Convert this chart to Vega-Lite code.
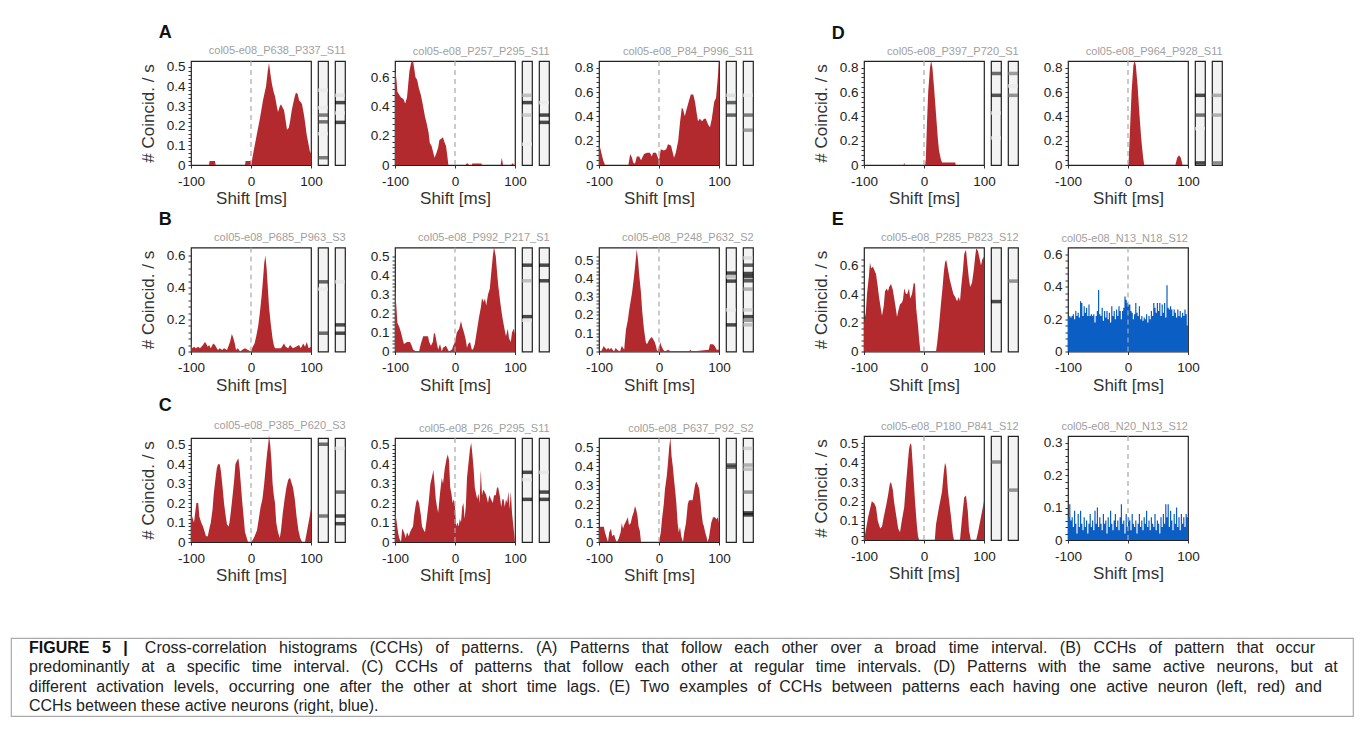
{
"$schema": "https://vega.github.io/schema/vega-lite/v6.json",
"padding": {"left": 10, "top": 24, "right": 0, "bottom": 0},
"background": "white",
"spacing": 52,
"vconcat": [
{"spacing": 57, "hconcat": [
 {"width": 70, "height": 10, "view": {"stroke": null, "fill": "white"}, "data": {"values": []}, "mark": "point", "encoding": {}},
 {"spacing": 2.5, "vconcat": [
  {"title": {"text": "A", "anchor": "start", "fontSize": 18, "fontWeight": "bold", "color": "#111", "dx": 20, "offset": 3}, "spacing": 23, "hconcat": [
   {"title": {"text": "col05-e08_P638_P337_S11"}, "bounds": "flush", "spacing": 7, "hconcat": [
    {"width": 120, "height": 104, "layer": [
     {"data": {"name": "A1"}, "mark": {"type": "area", "color": "#b2292e"}, "encoding": {
      "x": {"field": "t", "type": "quantitative", "scale": {"domain": [-100, 100], "nice": false}, "axis": {"values": [-100, -50, 0, 50, 100], "title": "Shift [ms]", "labelExpr": "datum.value < 0 ? '-' + (-datum.value) : '' + datum.value"}},
      "y": {"field": "v", "type": "quantitative", "scale": {"domain": [0, 0.53], "nice": false}, "axis": {"title": "# Coincid. / s", "values": [0,0.02,0.04,0.06,0.08,0.1,0.12,0.14,0.16,0.18,0.2,0.22,0.24,0.26,0.28,0.3,0.32,0.34,0.36,0.38,0.4,0.42,0.44,0.46,0.48,0.5], "labelExpr": "abs(datum.value*10-round(datum.value*10))<0.001 ? (datum.value==0 ? '0' : format(datum.value,'.1f')) : ''"}}}},
     {"data": {"values": [{}]}, "mark": {"type": "rule", "color": "#a8a8a8", "strokeDash": [5, 4], "strokeWidth": 1.2}, "encoding": {"x": {"datum": 0}}}
    ]},
    {"width": 10, "height": 104, "view": {"fill": "#f3f3f3", "stroke": "#222"}, "data": {"name": "strips"}, "transform": [{"filter": "datum.p=='A1' && datum.s==1"}], "mark": {"type": "tick", "thickness": 3.5, "size": 10}, "encoding": {"y": {"field": "pos", "type": "quantitative", "scale": {"domain": [0, 1]}, "axis": null}, "color": {"field": "v", "type": "quantitative", "scale": {"domain": [0, 1], "range": ["#ffffff", "#000000"]}, "legend": null}}},
    {"width": 10, "height": 104, "view": {"fill": "#f3f3f3", "stroke": "#222"}, "data": {"name": "strips"}, "transform": [{"filter": "datum.p=='A1' && datum.s==2"}], "mark": {"type": "tick", "thickness": 3.5, "size": 10}, "encoding": {"y": {"field": "pos", "type": "quantitative", "scale": {"domain": [0, 1]}, "axis": null}, "color": {"field": "v", "type": "quantitative", "scale": {"domain": [0, 1], "range": ["#ffffff", "#000000"]}, "legend": null}}}
   ]},
   {"title": {"text": "col05-e08_P257_P295_S11"}, "bounds": "flush", "spacing": 7, "hconcat": [
    {"width": 120, "height": 104, "layer": [
     {"data": {"name": "A2"}, "mark": {"type": "area", "color": "#b2292e"}, "encoding": {
      "x": {"field": "t", "type": "quantitative", "scale": {"domain": [-100, 100], "nice": false}, "axis": {"values": [-100, -50, 0, 50, 100], "title": "Shift [ms]", "labelExpr": "datum.value < 0 ? '-' + (-datum.value) : '' + datum.value"}},
      "y": {"field": "v", "type": "quantitative", "scale": {"domain": [0, 0.71], "nice": false}, "axis": {"title": null, "values": [0,0.04,0.08,0.12,0.16,0.2,0.24,0.28,0.32,0.36,0.4,0.44,0.48,0.52,0.56,0.6,0.64], "labelExpr": "abs(datum.value*5-round(datum.value*5))<0.001 ? (datum.value==0 ? '0' : format(datum.value,'.1f')) : ''"}}}},
     {"data": {"values": [{}]}, "mark": {"type": "rule", "color": "#a8a8a8", "strokeDash": [5, 4], "strokeWidth": 1.2}, "encoding": {"x": {"datum": 0}}}
    ]},
    {"width": 10, "height": 104, "view": {"fill": "#f3f3f3", "stroke": "#222"}, "data": {"name": "strips"}, "transform": [{"filter": "datum.p=='A2' && datum.s==1"}], "mark": {"type": "tick", "thickness": 3.5, "size": 10}, "encoding": {"y": {"field": "pos", "type": "quantitative", "scale": {"domain": [0, 1]}, "axis": null}, "color": {"field": "v", "type": "quantitative", "scale": {"domain": [0, 1], "range": ["#ffffff", "#000000"]}, "legend": null}}},
    {"width": 10, "height": 104, "view": {"fill": "#f3f3f3", "stroke": "#222"}, "data": {"name": "strips"}, "transform": [{"filter": "datum.p=='A2' && datum.s==2"}], "mark": {"type": "tick", "thickness": 3.5, "size": 10}, "encoding": {"y": {"field": "pos", "type": "quantitative", "scale": {"domain": [0, 1]}, "axis": null}, "color": {"field": "v", "type": "quantitative", "scale": {"domain": [0, 1], "range": ["#ffffff", "#000000"]}, "legend": null}}}
   ]},
   {"title": {"text": "col05-e08_P84_P996_S11"}, "bounds": "flush", "spacing": 7, "hconcat": [
    {"width": 120, "height": 104, "layer": [
     {"data": {"name": "A3"}, "mark": {"type": "area", "color": "#b2292e"}, "encoding": {
      "x": {"field": "t", "type": "quantitative", "scale": {"domain": [-100, 100], "nice": false}, "axis": {"values": [-100, -50, 0, 50, 100], "title": "Shift [ms]", "labelExpr": "datum.value < 0 ? '-' + (-datum.value) : '' + datum.value"}},
      "y": {"field": "v", "type": "quantitative", "scale": {"domain": [0, 0.855], "nice": false}, "axis": {"title": null, "values": [0,0.04,0.08,0.12,0.16,0.2,0.24,0.28,0.32,0.36,0.4,0.44,0.48,0.52,0.56,0.6,0.64,0.68,0.72,0.76,0.8], "labelExpr": "abs(datum.value*5-round(datum.value*5))<0.001 ? (datum.value==0 ? '0' : format(datum.value,'.1f')) : ''"}}}},
     {"data": {"values": [{}]}, "mark": {"type": "rule", "color": "#a8a8a8", "strokeDash": [5, 4], "strokeWidth": 1.2}, "encoding": {"x": {"datum": 0}}}
    ]},
    {"width": 10, "height": 104, "view": {"fill": "#f3f3f3", "stroke": "#222"}, "data": {"name": "strips"}, "transform": [{"filter": "datum.p=='A3' && datum.s==1"}], "mark": {"type": "tick", "thickness": 3.5, "size": 10}, "encoding": {"y": {"field": "pos", "type": "quantitative", "scale": {"domain": [0, 1]}, "axis": null}, "color": {"field": "v", "type": "quantitative", "scale": {"domain": [0, 1], "range": ["#ffffff", "#000000"]}, "legend": null}}},
    {"width": 10, "height": 104, "view": {"fill": "#f3f3f3", "stroke": "#222"}, "data": {"name": "strips"}, "transform": [{"filter": "datum.p=='A3' && datum.s==2"}], "mark": {"type": "tick", "thickness": 3.5, "size": 10}, "encoding": {"y": {"field": "pos", "type": "quantitative", "scale": {"domain": [0, 1]}, "axis": null}, "color": {"field": "v", "type": "quantitative", "scale": {"domain": [0, 1], "range": ["#ffffff", "#000000"]}, "legend": null}}}
   ]}
  ]},
  {"title": {"text": "B", "anchor": "start", "fontSize": 18, "fontWeight": "bold", "color": "#111", "dx": 20, "offset": 3}, "spacing": 23, "hconcat": [
   {"title": {"text": "col05-e08_P685_P963_S3"}, "bounds": "flush", "spacing": 7, "hconcat": [
    {"width": 120, "height": 104, "layer": [
     {"data": {"name": "B1"}, "mark": {"type": "area", "color": "#b2292e"}, "encoding": {
      "x": {"field": "t", "type": "quantitative", "scale": {"domain": [-100, 100], "nice": false}, "axis": {"values": [-100, -50, 0, 50, 100], "title": "Shift [ms]", "labelExpr": "datum.value < 0 ? '-' + (-datum.value) : '' + datum.value"}},
      "y": {"field": "v", "type": "quantitative", "scale": {"domain": [0, 0.65], "nice": false}, "axis": {"title": "# Coincid. / s", "values": [0,0.04,0.08,0.12,0.16,0.2,0.24,0.28,0.32,0.36,0.4,0.44,0.48,0.52,0.56,0.6], "labelExpr": "abs(datum.value*5-round(datum.value*5))<0.001 ? (datum.value==0 ? '0' : format(datum.value,'.1f')) : ''"}}}},
     {"data": {"values": [{}]}, "mark": {"type": "rule", "color": "#a8a8a8", "strokeDash": [5, 4], "strokeWidth": 1.2}, "encoding": {"x": {"datum": 0}}}
    ]},
    {"width": 10, "height": 104, "view": {"fill": "#f3f3f3", "stroke": "#222"}, "data": {"name": "strips"}, "transform": [{"filter": "datum.p=='B1' && datum.s==1"}], "mark": {"type": "tick", "thickness": 3.5, "size": 10}, "encoding": {"y": {"field": "pos", "type": "quantitative", "scale": {"domain": [0, 1]}, "axis": null}, "color": {"field": "v", "type": "quantitative", "scale": {"domain": [0, 1], "range": ["#ffffff", "#000000"]}, "legend": null}}},
    {"width": 10, "height": 104, "view": {"fill": "#f3f3f3", "stroke": "#222"}, "data": {"name": "strips"}, "transform": [{"filter": "datum.p=='B1' && datum.s==2"}], "mark": {"type": "tick", "thickness": 3.5, "size": 10}, "encoding": {"y": {"field": "pos", "type": "quantitative", "scale": {"domain": [0, 1]}, "axis": null}, "color": {"field": "v", "type": "quantitative", "scale": {"domain": [0, 1], "range": ["#ffffff", "#000000"]}, "legend": null}}}
   ]},
   {"title": {"text": "col05-e08_P992_P217_S1"}, "bounds": "flush", "spacing": 7, "hconcat": [
    {"width": 120, "height": 104, "layer": [
     {"data": {"name": "B2"}, "mark": {"type": "area", "color": "#b2292e"}, "encoding": {
      "x": {"field": "t", "type": "quantitative", "scale": {"domain": [-100, 100], "nice": false}, "axis": {"values": [-100, -50, 0, 50, 100], "title": "Shift [ms]", "labelExpr": "datum.value < 0 ? '-' + (-datum.value) : '' + datum.value"}},
      "y": {"field": "v", "type": "quantitative", "scale": {"domain": [0, 0.547], "nice": false}, "axis": {"title": null, "values": [0,0.02,0.04,0.06,0.08,0.1,0.12,0.14,0.16,0.18,0.2,0.22,0.24,0.26,0.28,0.3,0.32,0.34,0.36,0.38,0.4,0.42,0.44,0.46,0.48,0.5], "labelExpr": "abs(datum.value*10-round(datum.value*10))<0.001 ? (datum.value==0 ? '0' : format(datum.value,'.1f')) : ''"}}}},
     {"data": {"values": [{}]}, "mark": {"type": "rule", "color": "#a8a8a8", "strokeDash": [5, 4], "strokeWidth": 1.2}, "encoding": {"x": {"datum": 0}}}
    ]},
    {"width": 10, "height": 104, "view": {"fill": "#f3f3f3", "stroke": "#222"}, "data": {"name": "strips"}, "transform": [{"filter": "datum.p=='B2' && datum.s==1"}], "mark": {"type": "tick", "thickness": 3.5, "size": 10}, "encoding": {"y": {"field": "pos", "type": "quantitative", "scale": {"domain": [0, 1]}, "axis": null}, "color": {"field": "v", "type": "quantitative", "scale": {"domain": [0, 1], "range": ["#ffffff", "#000000"]}, "legend": null}}},
    {"width": 10, "height": 104, "view": {"fill": "#f3f3f3", "stroke": "#222"}, "data": {"name": "strips"}, "transform": [{"filter": "datum.p=='B2' && datum.s==2"}], "mark": {"type": "tick", "thickness": 3.5, "size": 10}, "encoding": {"y": {"field": "pos", "type": "quantitative", "scale": {"domain": [0, 1]}, "axis": null}, "color": {"field": "v", "type": "quantitative", "scale": {"domain": [0, 1], "range": ["#ffffff", "#000000"]}, "legend": null}}}
   ]},
   {"title": {"text": "col05-e08_P248_P632_S2"}, "bounds": "flush", "spacing": 7, "hconcat": [
    {"width": 120, "height": 104, "layer": [
     {"data": {"name": "B3"}, "mark": {"type": "area", "color": "#b2292e"}, "encoding": {
      "x": {"field": "t", "type": "quantitative", "scale": {"domain": [-100, 100], "nice": false}, "axis": {"values": [-100, -50, 0, 50, 100], "title": "Shift [ms]", "labelExpr": "datum.value < 0 ? '-' + (-datum.value) : '' + datum.value"}},
      "y": {"field": "v", "type": "quantitative", "scale": {"domain": [0, 0.569], "nice": false}, "axis": {"title": null, "values": [0,0.02,0.04,0.06,0.08,0.1,0.12,0.14,0.16,0.18,0.2,0.22,0.24,0.26,0.28,0.3,0.32,0.34,0.36,0.38,0.4,0.42,0.44,0.46,0.48,0.5,0.52], "labelExpr": "abs(datum.value*10-round(datum.value*10))<0.001 ? (datum.value==0 ? '0' : format(datum.value,'.1f')) : ''"}}}},
     {"data": {"values": [{}]}, "mark": {"type": "rule", "color": "#a8a8a8", "strokeDash": [5, 4], "strokeWidth": 1.2}, "encoding": {"x": {"datum": 0}}}
    ]},
    {"width": 10, "height": 104, "view": {"fill": "#f3f3f3", "stroke": "#222"}, "data": {"name": "strips"}, "transform": [{"filter": "datum.p=='B3' && datum.s==1"}], "mark": {"type": "tick", "thickness": 3.5, "size": 10}, "encoding": {"y": {"field": "pos", "type": "quantitative", "scale": {"domain": [0, 1]}, "axis": null}, "color": {"field": "v", "type": "quantitative", "scale": {"domain": [0, 1], "range": ["#ffffff", "#000000"]}, "legend": null}}},
    {"width": 10, "height": 104, "view": {"fill": "#f3f3f3", "stroke": "#222"}, "data": {"name": "strips"}, "transform": [{"filter": "datum.p=='B3' && datum.s==2"}], "mark": {"type": "tick", "thickness": 3.5, "size": 10}, "encoding": {"y": {"field": "pos", "type": "quantitative", "scale": {"domain": [0, 1]}, "axis": null}, "color": {"field": "v", "type": "quantitative", "scale": {"domain": [0, 1], "range": ["#ffffff", "#000000"]}, "legend": null}}}
   ]}
  ]},
  {"title": {"text": "C", "anchor": "start", "fontSize": 18, "fontWeight": "bold", "color": "#111", "dx": 20, "offset": 5}, "spacing": 23, "hconcat": [
   {"title": {"text": "col05-e08_P385_P620_S3"}, "bounds": "flush", "spacing": 7, "hconcat": [
    {"width": 120, "height": 104, "layer": [
     {"data": {"name": "C1"}, "mark": {"type": "area", "color": "#b2292e"}, "encoding": {
      "x": {"field": "t", "type": "quantitative", "scale": {"domain": [-100, 100], "nice": false}, "axis": {"values": [-100, -50, 0, 50, 100], "title": "Shift [ms]", "labelExpr": "datum.value < 0 ? '-' + (-datum.value) : '' + datum.value"}},
      "y": {"field": "v", "type": "quantitative", "scale": {"domain": [0, 0.535], "nice": false}, "axis": {"title": "# Coincid. / s", "values": [0,0.02,0.04,0.06,0.08,0.1,0.12,0.14,0.16,0.18,0.2,0.22,0.24,0.26,0.28,0.3,0.32,0.34,0.36,0.38,0.4,0.42,0.44,0.46,0.48,0.5], "labelExpr": "abs(datum.value*10-round(datum.value*10))<0.001 ? (datum.value==0 ? '0' : format(datum.value,'.1f')) : ''"}}}},
     {"data": {"values": [{}]}, "mark": {"type": "rule", "color": "#a8a8a8", "strokeDash": [5, 4], "strokeWidth": 1.2}, "encoding": {"x": {"datum": 0}}}
    ]},
    {"width": 10, "height": 104, "view": {"fill": "#f3f3f3", "stroke": "#222"}, "data": {"name": "strips"}, "transform": [{"filter": "datum.p=='C1' && datum.s==1"}], "mark": {"type": "tick", "thickness": 3.5, "size": 10}, "encoding": {"y": {"field": "pos", "type": "quantitative", "scale": {"domain": [0, 1]}, "axis": null}, "color": {"field": "v", "type": "quantitative", "scale": {"domain": [0, 1], "range": ["#ffffff", "#000000"]}, "legend": null}}},
    {"width": 10, "height": 104, "view": {"fill": "#f3f3f3", "stroke": "#222"}, "data": {"name": "strips"}, "transform": [{"filter": "datum.p=='C1' && datum.s==2"}], "mark": {"type": "tick", "thickness": 3.5, "size": 10}, "encoding": {"y": {"field": "pos", "type": "quantitative", "scale": {"domain": [0, 1]}, "axis": null}, "color": {"field": "v", "type": "quantitative", "scale": {"domain": [0, 1], "range": ["#ffffff", "#000000"]}, "legend": null}}}
   ]},
   {"title": {"text": "col05-e08_P26_P295_S11"}, "bounds": "flush", "spacing": 7, "hconcat": [
    {"width": 120, "height": 104, "layer": [
     {"data": {"name": "C2"}, "mark": {"type": "area", "color": "#b2292e"}, "encoding": {
      "x": {"field": "t", "type": "quantitative", "scale": {"domain": [-100, 100], "nice": false}, "axis": {"values": [-100, -50, 0, 50, 100], "title": "Shift [ms]", "labelExpr": "datum.value < 0 ? '-' + (-datum.value) : '' + datum.value"}},
      "y": {"field": "v", "type": "quantitative", "scale": {"domain": [0, 0.535], "nice": false}, "axis": {"title": null, "values": [0,0.02,0.04,0.06,0.08,0.1,0.12,0.14,0.16,0.18,0.2,0.22,0.24,0.26,0.28,0.3,0.32,0.34,0.36,0.38,0.4,0.42,0.44,0.46,0.48,0.5], "labelExpr": "abs(datum.value*10-round(datum.value*10))<0.001 ? (datum.value==0 ? '0' : format(datum.value,'.1f')) : ''"}}}},
     {"data": {"values": [{}]}, "mark": {"type": "rule", "color": "#a8a8a8", "strokeDash": [5, 4], "strokeWidth": 1.2}, "encoding": {"x": {"datum": 0}}}
    ]},
    {"width": 10, "height": 104, "view": {"fill": "#f3f3f3", "stroke": "#222"}, "data": {"name": "strips"}, "transform": [{"filter": "datum.p=='C2' && datum.s==1"}], "mark": {"type": "tick", "thickness": 3.5, "size": 10}, "encoding": {"y": {"field": "pos", "type": "quantitative", "scale": {"domain": [0, 1]}, "axis": null}, "color": {"field": "v", "type": "quantitative", "scale": {"domain": [0, 1], "range": ["#ffffff", "#000000"]}, "legend": null}}},
    {"width": 10, "height": 104, "view": {"fill": "#f3f3f3", "stroke": "#222"}, "data": {"name": "strips"}, "transform": [{"filter": "datum.p=='C2' && datum.s==2"}], "mark": {"type": "tick", "thickness": 3.5, "size": 10}, "encoding": {"y": {"field": "pos", "type": "quantitative", "scale": {"domain": [0, 1]}, "axis": null}, "color": {"field": "v", "type": "quantitative", "scale": {"domain": [0, 1], "range": ["#ffffff", "#000000"]}, "legend": null}}}
   ]},
   {"title": {"text": "col05-e08_P637_P92_S2"}, "bounds": "flush", "spacing": 7, "hconcat": [
    {"width": 120, "height": 104, "layer": [
     {"data": {"name": "C3"}, "mark": {"type": "area", "color": "#b2292e"}, "encoding": {
      "x": {"field": "t", "type": "quantitative", "scale": {"domain": [-100, 100], "nice": false}, "axis": {"values": [-100, -50, 0, 50, 100], "title": "Shift [ms]", "labelExpr": "datum.value < 0 ? '-' + (-datum.value) : '' + datum.value"}},
      "y": {"field": "v", "type": "quantitative", "scale": {"domain": [0, 0.549], "nice": false}, "axis": {"title": null, "values": [0,0.02,0.04,0.06,0.08,0.1,0.12,0.14,0.16,0.18,0.2,0.22,0.24,0.26,0.28,0.3,0.32,0.34,0.36,0.38,0.4,0.42,0.44,0.46,0.48,0.5], "labelExpr": "abs(datum.value*10-round(datum.value*10))<0.001 ? (datum.value==0 ? '0' : format(datum.value,'.1f')) : ''"}}}},
     {"data": {"values": [{}]}, "mark": {"type": "rule", "color": "#a8a8a8", "strokeDash": [5, 4], "strokeWidth": 1.2}, "encoding": {"x": {"datum": 0}}}
    ]},
    {"width": 10, "height": 104, "view": {"fill": "#f3f3f3", "stroke": "#222"}, "data": {"name": "strips"}, "transform": [{"filter": "datum.p=='C3' && datum.s==1"}], "mark": {"type": "tick", "thickness": 3.5, "size": 10}, "encoding": {"y": {"field": "pos", "type": "quantitative", "scale": {"domain": [0, 1]}, "axis": null}, "color": {"field": "v", "type": "quantitative", "scale": {"domain": [0, 1], "range": ["#ffffff", "#000000"]}, "legend": null}}},
    {"width": 10, "height": 104, "view": {"fill": "#f3f3f3", "stroke": "#222"}, "data": {"name": "strips"}, "transform": [{"filter": "datum.p=='C3' && datum.s==2"}], "mark": {"type": "tick", "thickness": 3.5, "size": 10}, "encoding": {"y": {"field": "pos", "type": "quantitative", "scale": {"domain": [0, 1]}, "axis": null}, "color": {"field": "v", "type": "quantitative", "scale": {"domain": [0, 1], "range": ["#ffffff", "#000000"]}, "legend": null}}}
   ]}
  ]}
 ]},
 {"spacing": 2.5, "vconcat": [
  {"title": {"text": "D", "anchor": "start", "fontSize": 18, "fontWeight": "bold", "color": "#111", "dx": 20, "offset": 3}, "spacing": 23, "hconcat": [
   {"title": {"text": "col05-e08_P397_P720_S1"}, "bounds": "flush", "spacing": 7, "hconcat": [
    {"width": 120, "height": 104, "layer": [
     {"data": {"name": "D1"}, "mark": {"type": "area", "color": "#b2292e"}, "encoding": {
      "x": {"field": "t", "type": "quantitative", "scale": {"domain": [-100, 100], "nice": false}, "axis": {"values": [-100, -50, 0, 50, 100], "title": "Shift [ms]", "labelExpr": "datum.value < 0 ? '-' + (-datum.value) : '' + datum.value"}},
      "y": {"field": "v", "type": "quantitative", "scale": {"domain": [0, 0.855], "nice": false}, "axis": {"title": "# Coincid. / s", "values": [0,0.04,0.08,0.12,0.16,0.2,0.24,0.28,0.32,0.36,0.4,0.44,0.48,0.52,0.56,0.6,0.64,0.68,0.72,0.76,0.8], "labelExpr": "abs(datum.value*5-round(datum.value*5))<0.001 ? (datum.value==0 ? '0' : format(datum.value,'.1f')) : ''"}}}},
     {"data": {"values": [{}]}, "mark": {"type": "rule", "color": "#a8a8a8", "strokeDash": [5, 4], "strokeWidth": 1.2}, "encoding": {"x": {"datum": 0}}}
    ]},
    {"width": 10, "height": 104, "view": {"fill": "#f3f3f3", "stroke": "#222"}, "data": {"name": "strips"}, "transform": [{"filter": "datum.p=='D1' && datum.s==1"}], "mark": {"type": "tick", "thickness": 3.5, "size": 10}, "encoding": {"y": {"field": "pos", "type": "quantitative", "scale": {"domain": [0, 1]}, "axis": null}, "color": {"field": "v", "type": "quantitative", "scale": {"domain": [0, 1], "range": ["#ffffff", "#000000"]}, "legend": null}}},
    {"width": 10, "height": 104, "view": {"fill": "#f3f3f3", "stroke": "#222"}, "data": {"name": "strips"}, "transform": [{"filter": "datum.p=='D1' && datum.s==2"}], "mark": {"type": "tick", "thickness": 3.5, "size": 10}, "encoding": {"y": {"field": "pos", "type": "quantitative", "scale": {"domain": [0, 1]}, "axis": null}, "color": {"field": "v", "type": "quantitative", "scale": {"domain": [0, 1], "range": ["#ffffff", "#000000"]}, "legend": null}}}
   ]},
   {"title": {"text": "col05-e08_P964_P928_S11"}, "bounds": "flush", "spacing": 7, "hconcat": [
    {"width": 120, "height": 104, "layer": [
     {"data": {"name": "D2"}, "mark": {"type": "area", "color": "#b2292e"}, "encoding": {
      "x": {"field": "t", "type": "quantitative", "scale": {"domain": [-100, 100], "nice": false}, "axis": {"values": [-100, -50, 0, 50, 100], "title": "Shift [ms]", "labelExpr": "datum.value < 0 ? '-' + (-datum.value) : '' + datum.value"}},
      "y": {"field": "v", "type": "quantitative", "scale": {"domain": [0, 0.855], "nice": false}, "axis": {"title": null, "values": [0,0.04,0.08,0.12,0.16,0.2,0.24,0.28,0.32,0.36,0.4,0.44,0.48,0.52,0.56,0.6,0.64,0.68,0.72,0.76,0.8], "labelExpr": "abs(datum.value*5-round(datum.value*5))<0.001 ? (datum.value==0 ? '0' : format(datum.value,'.1f')) : ''"}}}},
     {"data": {"values": [{}]}, "mark": {"type": "rule", "color": "#a8a8a8", "strokeDash": [5, 4], "strokeWidth": 1.2}, "encoding": {"x": {"datum": 0}}}
    ]},
    {"width": 10, "height": 104, "view": {"fill": "#f3f3f3", "stroke": "#222"}, "data": {"name": "strips"}, "transform": [{"filter": "datum.p=='D2' && datum.s==1"}], "mark": {"type": "tick", "thickness": 3.5, "size": 10}, "encoding": {"y": {"field": "pos", "type": "quantitative", "scale": {"domain": [0, 1]}, "axis": null}, "color": {"field": "v", "type": "quantitative", "scale": {"domain": [0, 1], "range": ["#ffffff", "#000000"]}, "legend": null}}},
    {"width": 10, "height": 104, "view": {"fill": "#f3f3f3", "stroke": "#222"}, "data": {"name": "strips"}, "transform": [{"filter": "datum.p=='D2' && datum.s==2"}], "mark": {"type": "tick", "thickness": 3.5, "size": 10}, "encoding": {"y": {"field": "pos", "type": "quantitative", "scale": {"domain": [0, 1]}, "axis": null}, "color": {"field": "v", "type": "quantitative", "scale": {"domain": [0, 1], "range": ["#ffffff", "#000000"]}, "legend": null}}}
   ]}
  ]},
  {"title": {"text": "E", "anchor": "start", "fontSize": 18, "fontWeight": "bold", "color": "#111", "dx": 20, "offset": 3}, "spacing": 23, "hconcat": [
   {"title": {"text": "col05-e08_P285_P823_S12"}, "bounds": "flush", "spacing": 7, "hconcat": [
    {"width": 120, "height": 104, "layer": [
     {"data": {"name": "E1"}, "mark": {"type": "area", "color": "#b2292e"}, "encoding": {
      "x": {"field": "t", "type": "quantitative", "scale": {"domain": [-100, 100], "nice": false}, "axis": {"values": [-100, -50, 0, 50, 100], "title": "Shift [ms]", "labelExpr": "datum.value < 0 ? '-' + (-datum.value) : '' + datum.value"}},
      "y": {"field": "v", "type": "quantitative", "scale": {"domain": [0, 0.725], "nice": false}, "axis": {"title": "# Coincid. / s", "values": [0,0.04,0.08,0.12,0.16,0.2,0.24,0.28,0.32,0.36,0.4,0.44,0.48,0.52,0.56,0.6,0.64], "labelExpr": "abs(datum.value*5-round(datum.value*5))<0.001 ? (datum.value==0 ? '0' : format(datum.value,'.1f')) : ''"}}}},
     {"data": {"values": [{}]}, "mark": {"type": "rule", "color": "#a8a8a8", "strokeDash": [5, 4], "strokeWidth": 1.2}, "encoding": {"x": {"datum": 0}}}
    ]},
    {"width": 10, "height": 104, "view": {"fill": "#f3f3f3", "stroke": "#222"}, "data": {"name": "strips"}, "transform": [{"filter": "datum.p=='E1' && datum.s==1"}], "mark": {"type": "tick", "thickness": 3.5, "size": 10}, "encoding": {"y": {"field": "pos", "type": "quantitative", "scale": {"domain": [0, 1]}, "axis": null}, "color": {"field": "v", "type": "quantitative", "scale": {"domain": [0, 1], "range": ["#ffffff", "#000000"]}, "legend": null}}},
    {"width": 10, "height": 104, "view": {"fill": "#f3f3f3", "stroke": "#222"}, "data": {"name": "strips"}, "transform": [{"filter": "datum.p=='E1' && datum.s==2"}], "mark": {"type": "tick", "thickness": 3.5, "size": 10}, "encoding": {"y": {"field": "pos", "type": "quantitative", "scale": {"domain": [0, 1]}, "axis": null}, "color": {"field": "v", "type": "quantitative", "scale": {"domain": [0, 1], "range": ["#ffffff", "#000000"]}, "legend": null}}}
   ]},
   {"title": {"text": "col05-e08_N13_N18_S12", "frame": "group"}, "width": 120, "height": 104, "layer": [
     {"data": {"name": "E2"}, "mark": {"type": "area", "color": "#0a5ec4", "interpolate": "step-after"}, "encoding": {
      "x": {"field": "t", "type": "quantitative", "scale": {"domain": [-100, 100], "nice": false}, "axis": {"values": [-100, -50, 0, 50, 100], "title": "Shift [ms]", "labelExpr": "datum.value < 0 ? '-' + (-datum.value) : '' + datum.value"}},
      "y": {"field": "v", "type": "quantitative", "scale": {"domain": [0, 0.643], "nice": false}, "axis": {"title": null, "values": [0,0.04,0.08,0.12,0.16,0.2,0.24,0.28,0.32,0.36,0.4,0.44,0.48,0.52,0.56,0.6], "labelExpr": "abs(datum.value*5-round(datum.value*5))<0.001 ? (datum.value==0 ? '0' : format(datum.value,'.1f')) : ''"}}}},
     {"data": {"values": [{}]}, "mark": {"type": "rule", "color": "#a8a8a8", "strokeDash": [5, 4], "strokeWidth": 1.2}, "encoding": {"x": {"datum": 0}}}
   ]}
  ]},
  {"title": {"text": " ", "anchor": "start", "fontSize": 18, "fontWeight": "bold", "color": "#111", "dx": 20, "offset": 5}, "spacing": 23, "hconcat": [
   {"title": {"text": "col05-e08_P180_P841_S12"}, "bounds": "flush", "spacing": 7, "hconcat": [
    {"width": 120, "height": 104, "layer": [
     {"data": {"name": "E3"}, "mark": {"type": "area", "color": "#b2292e"}, "encoding": {
      "x": {"field": "t", "type": "quantitative", "scale": {"domain": [-100, 100], "nice": false}, "axis": {"values": [-100, -50, 0, 50, 100], "title": "Shift [ms]", "labelExpr": "datum.value < 0 ? '-' + (-datum.value) : '' + datum.value"}},
      "y": {"field": "v", "type": "quantitative", "scale": {"domain": [0, 0.538], "nice": false}, "axis": {"title": "# Coincid. / s", "values": [0,0.02,0.04,0.06,0.08,0.1,0.12,0.14,0.16,0.18,0.2,0.22,0.24,0.26,0.28,0.3,0.32,0.34,0.36,0.38,0.4,0.42,0.44,0.46,0.48,0.5], "labelExpr": "abs(datum.value*10-round(datum.value*10))<0.001 ? (datum.value==0 ? '0' : format(datum.value,'.1f')) : ''"}}}},
     {"data": {"values": [{}]}, "mark": {"type": "rule", "color": "#a8a8a8", "strokeDash": [5, 4], "strokeWidth": 1.2}, "encoding": {"x": {"datum": 0}}}
    ]},
    {"width": 10, "height": 104, "view": {"fill": "#f3f3f3", "stroke": "#222"}, "data": {"name": "strips"}, "transform": [{"filter": "datum.p=='E3' && datum.s==1"}], "mark": {"type": "tick", "thickness": 3.5, "size": 10}, "encoding": {"y": {"field": "pos", "type": "quantitative", "scale": {"domain": [0, 1]}, "axis": null}, "color": {"field": "v", "type": "quantitative", "scale": {"domain": [0, 1], "range": ["#ffffff", "#000000"]}, "legend": null}}},
    {"width": 10, "height": 104, "view": {"fill": "#f3f3f3", "stroke": "#222"}, "data": {"name": "strips"}, "transform": [{"filter": "datum.p=='E3' && datum.s==2"}], "mark": {"type": "tick", "thickness": 3.5, "size": 10}, "encoding": {"y": {"field": "pos", "type": "quantitative", "scale": {"domain": [0, 1]}, "axis": null}, "color": {"field": "v", "type": "quantitative", "scale": {"domain": [0, 1], "range": ["#ffffff", "#000000"]}, "legend": null}}}
   ]},
   {"title": {"text": "col05-e08_N20_N13_S12", "frame": "group"}, "width": 120, "height": 104, "layer": [
     {"data": {"name": "E4"}, "mark": {"type": "area", "color": "#0a5ec4", "interpolate": "step-after"}, "encoding": {
      "x": {"field": "t", "type": "quantitative", "scale": {"domain": [-100, 100], "nice": false}, "axis": {"values": [-100, -50, 0, 50, 100], "title": "Shift [ms]", "labelExpr": "datum.value < 0 ? '-' + (-datum.value) : '' + datum.value"}},
      "y": {"field": "v", "type": "quantitative", "scale": {"domain": [0, 0.32], "nice": false}, "axis": {"title": null, "values": [0,0.02,0.04,0.06,0.08,0.1,0.12,0.14,0.16,0.18,0.2,0.22,0.24,0.26,0.28,0.3], "labelExpr": "abs(datum.value*10-round(datum.value*10))<0.001 ? (datum.value==0 ? '0' : format(datum.value,'.1f')) : ''"}}}},
     {"data": {"values": [{}]}, "mark": {"type": "rule", "color": "#a8a8a8", "strokeDash": [5, 4], "strokeWidth": 1.2}, "encoding": {"x": {"datum": 0}}}
   ]}
  ]}
 ]}
]},
{"width": 1342, "height": 78, "view": {"stroke": "#aaaaaa", "fill": null},
 "encoding": {
  "x": {"field": "col", "type": "quantitative", "scale": {"domain": [0, 1]}, "axis": null},
  "y": {"field": "line", "type": "ordinal", "scale": {"type": "point", "padding": 0.5, "domain": [1, 2, 3, 4]}, "axis": null},
  "text": {"field": "text"}},
 "layer": [
  {"data": {"name": "captionL"}, "mark": {"type": "text", "align": "left", "baseline": "middle", "dx": 18, "fontSize": 16, "color": "#222", "font": "Liberation Sans"}},
  {"data": {"name": "captionR"}, "mark": {"type": "text", "align": "right", "baseline": "middle", "dx": -38, "fontSize": 16, "color": "#222", "font": "Liberation Sans"}},
  {"data": {"name": "captionBold"}, "mark": {"type": "text", "align": "left", "baseline": "middle", "dx": 18, "fontSize": 16, "fontWeight": "bold", "color": "#111", "font": "Liberation Sans"}}
 ]}
],
"datasets": {
"captionL": [
 {"line": 2, "col": 0, "text": "predominantly \u2005\u2009at \u2005\u2009a \u2005\u2009specific \u2005\u2009time \u2005\u2009interval. \u2005\u2009(C) \u2005\u2009CCHs \u2005\u2009of \u2005\u2009patterns \u2005\u2009that \u2005\u2009follow \u2005\u2009each \u2005\u2009other \u2005\u2009at \u2005\u2009regular \u2005\u2009time \u2005\u2009intervals. \u2005\u2009(D) \u2005\u2009Patterns \u2005\u2009with \u2005\u2009the \u2005\u2009same \u2005\u2009active \u2005\u2009neurons, \u2005\u2009but \u2005\u2009at"},
 {"line": 3, "col": 0, "text": "different \u2004activation \u2004levels, \u2004occurring \u2005one \u2004after \u2004the \u2004other \u2005at \u2004short \u2004time \u2004lags. \u2005(E) \u2004Two \u2004examples \u2004of \u2005CCHs \u2004between \u2004patterns \u2004each \u2005having \u2004one \u2004active \u2004neuron \u2005(left, \u2004red) \u2004and"},
 {"line": 4, "col": 0, "text": "CCHs between these active neurons (right, blue)."}
],
"captionR": [
 {"line": 1, "col": 1, "text": "Cross-correlation \u2002histograms \u2002(CCHs) \u2002of \u2002patterns. \u2002(A) \u2002Patterns \u2002that \u2002follow \u2002each \u2002other \u2002over \u2002a \u2002broad \u2002time \u2002interval. \u2002(B) \u2002CCHs \u2002of \u2002pattern \u2002that \u2002occur"}
],
"captionBold": [
 {"line": 1, "col": 0, "text": "FIGURE \u20025 \u2002|"}
],
"A1": [{"t":-100,"v":0},{"t":-70,"v":0},{"t":-69,"v":0.02},{"t":-60,"v":0.02},{"t":-59,"v":0},{"t":-10,"v":0},{"t":-9,"v":0.02},{"t":0,"v":0.02},{"t":1,"v":0},{"t":2,"v":0.03},{"t":5,"v":0.08},{"t":10,"v":0.16},{"t":15,"v":0.24},{"t":20,"v":0.33},{"t":25,"v":0.4},{"t":28,"v":0.48},{"t":30,"v":0.52},{"t":33,"v":0.45},{"t":35,"v":0.41},{"t":38,"v":0.37},{"t":40,"v":0.35},{"t":43,"v":0.3},{"t":45,"v":0.27},{"t":48,"v":0.3},{"t":50,"v":0.31},{"t":53,"v":0.29},{"t":55,"v":0.28},{"t":58,"v":0.22},{"t":60,"v":0.18},{"t":63,"v":0.19},{"t":65,"v":0.22},{"t":68,"v":0.28},{"t":70,"v":0.31},{"t":73,"v":0.35},{"t":75,"v":0.37},{"t":78,"v":0.36},{"t":80,"v":0.33},{"t":83,"v":0.32},{"t":85,"v":0.31},{"t":88,"v":0.26},{"t":90,"v":0.22},{"t":93,"v":0.15},{"t":95,"v":0.12},{"t":98,"v":0.07},{"t":100,"v":0.06}],
"A2": [{"t":-100,"v":0.64},{"t":-98,"v":0.6},{"t":-96,"v":0.5},{"t":-93,"v":0.48},{"t":-90,"v":0.46},{"t":-86,"v":0.45},{"t":-83,"v":0.42},{"t":-80,"v":0.46},{"t":-78,"v":0.55},{"t":-76,"v":0.64},{"t":-73,"v":0.7},{"t":-70,"v":0.71},{"t":-68,"v":0.66},{"t":-66,"v":0.6},{"t":-63,"v":0.58},{"t":-60,"v":0.52},{"t":-57,"v":0.48},{"t":-54,"v":0.42},{"t":-50,"v":0.33},{"t":-47,"v":0.28},{"t":-44,"v":0.22},{"t":-42,"v":0.15},{"t":-39,"v":0.13},{"t":-36,"v":0.08},{"t":-34,"v":0.05},{"t":-31,"v":0.08},{"t":-28,"v":0.12},{"t":-26,"v":0.17},{"t":-23,"v":0.18},{"t":-20,"v":0.19},{"t":-18,"v":0.16},{"t":-15,"v":0.13},{"t":-13,"v":0.07},{"t":-11,"v":0},{"t":18,"v":0},{"t":19,"v":0.01},{"t":22,"v":0.01},{"t":23,"v":0},{"t":28,"v":0},{"t":29,"v":0.01},{"t":44,"v":0.01},{"t":45,"v":0},{"t":76,"v":0},{"t":78,"v":0.05},{"t":80,"v":0},{"t":94,"v":0},{"t":95,"v":0.01},{"t":97,"v":0.01},{"t":98,"v":0},{"t":100,"v":0}],
"A3": [{"t":-100,"v":0.18},{"t":-97,"v":0.12},{"t":-93,"v":0.04},{"t":-90,"v":0},{"t":-51,"v":0},{"t":-48,"v":0.09},{"t":-45,"v":0.06},{"t":-43,"v":0.02},{"t":-40,"v":0.01},{"t":-37,"v":0.07},{"t":-33,"v":0.07},{"t":-30,"v":0.04},{"t":-25,"v":0.09},{"t":-20,"v":0.1},{"t":-15,"v":0.1},{"t":-12,"v":0.07},{"t":-10,"v":0.1},{"t":-5,"v":0.1},{"t":0,"v":0.04},{"t":3,"v":0.13},{"t":8,"v":0.12},{"t":12,"v":0.13},{"t":15,"v":0.17},{"t":20,"v":0.16},{"t":25,"v":0.06},{"t":28,"v":0.1},{"t":32,"v":0.2},{"t":35,"v":0.35},{"t":38,"v":0.47},{"t":40,"v":0.46},{"t":43,"v":0.4},{"t":45,"v":0.44},{"t":50,"v":0.53},{"t":53,"v":0.58},{"t":57,"v":0.58},{"t":60,"v":0.52},{"t":63,"v":0.42},{"t":65,"v":0.36},{"t":68,"v":0.38},{"t":72,"v":0.36},{"t":75,"v":0.38},{"t":78,"v":0.38},{"t":82,"v":0.33},{"t":85,"v":0.31},{"t":88,"v":0.38},{"t":92,"v":0.52},{"t":95,"v":0.55},{"t":98,"v":0.72},{"t":100,"v":0.85}],
"D1": [{"t":-100,"v":0},{"t":-34,"v":0},{"t":-33,"v":0.02},{"t":-32,"v":0},{"t":2,"v":0},{"t":3,"v":0.05},{"t":5,"v":0.35},{"t":7,"v":0.6},{"t":10,"v":0.8},{"t":12,"v":0.86},{"t":14,"v":0.8},{"t":17,"v":0.62},{"t":20,"v":0.42},{"t":23,"v":0.22},{"t":25,"v":0.12},{"t":28,"v":0.05},{"t":30,"v":0.02},{"t":52,"v":0.02},{"t":53,"v":0},{"t":100,"v":0}],
"D2": [{"t":-100,"v":0},{"t":0,"v":0},{"t":1,"v":0.02},{"t":3,"v":0.25},{"t":6,"v":0.6},{"t":9,"v":0.82},{"t":11,"v":0.86},{"t":13,"v":0.82},{"t":16,"v":0.65},{"t":19,"v":0.42},{"t":22,"v":0.22},{"t":25,"v":0.07},{"t":27,"v":0},{"t":79,"v":0},{"t":82,"v":0.06},{"t":85,"v":0.08},{"t":88,"v":0.06},{"t":91,"v":0},{"t":100,"v":0}],
"B1": [{"t":-100,"v":0.06},{"t":-98,"v":0.02},{"t":-95,"v":0.03},{"t":-92,"v":0.02},{"t":-88,"v":0.03},{"t":-85,"v":0.02},{"t":-80,"v":0.04},{"t":-77,"v":0.06},{"t":-75,"v":0.05},{"t":-72,"v":0.03},{"t":-70,"v":0.04},{"t":-67,"v":0.02},{"t":-63,"v":0.05},{"t":-60,"v":0.04},{"t":-57,"v":0.02},{"t":-55,"v":0.01},{"t":-52,"v":0.02},{"t":-48,"v":0.01},{"t":-45,"v":0.02},{"t":-40,"v":0.01},{"t":-35,"v":0.06},{"t":-32,"v":0.11},{"t":-30,"v":0.09},{"t":-27,"v":0.05},{"t":-25,"v":0.01},{"t":-22,"v":0.02},{"t":-18,"v":0},{"t":-15,"v":0.01},{"t":-10,"v":0.02},{"t":-5,"v":0.01},{"t":0,"v":0},{"t":3,"v":0.03},{"t":6,"v":0.05},{"t":9,"v":0.1},{"t":12,"v":0.16},{"t":15,"v":0.25},{"t":18,"v":0.36},{"t":20,"v":0.45},{"t":22,"v":0.55},{"t":24,"v":0.6},{"t":26,"v":0.52},{"t":28,"v":0.4},{"t":30,"v":0.28},{"t":33,"v":0.17},{"t":36,"v":0.08},{"t":38,"v":0.04},{"t":40,"v":0.02},{"t":45,"v":0.02},{"t":50,"v":0.02},{"t":55,"v":0.05},{"t":58,"v":0.03},{"t":62,"v":0.02},{"t":65,"v":0.04},{"t":70,"v":0.02},{"t":75,"v":0.03},{"t":80,"v":0.04},{"t":83,"v":0.02},{"t":87,"v":0.05},{"t":90,"v":0.03},{"t":93,"v":0.06},{"t":96,"v":0.02},{"t":100,"v":0.03}],
"B2": [{"t":-100,"v":0.33},{"t":-98,"v":0.25},{"t":-96,"v":0.15},{"t":-93,"v":0.13},{"t":-90,"v":0.1},{"t":-87,"v":0.06},{"t":-85,"v":0.04},{"t":-80,"v":0.05},{"t":-75,"v":0.05},{"t":-72,"v":0.03},{"t":-70,"v":0.01},{"t":-65,"v":0},{"t":-60,"v":0},{"t":-57,"v":0.04},{"t":-53,"v":0.08},{"t":-50,"v":0.08},{"t":-45,"v":0.08},{"t":-43,"v":0.05},{"t":-40,"v":0.03},{"t":-37,"v":0.05},{"t":-35,"v":0.1},{"t":-33,"v":0.09},{"t":-30,"v":0.04},{"t":-28,"v":0.01},{"t":-25,"v":0.04},{"t":-22,"v":0},{"t":-20,"v":0.02},{"t":-15,"v":0.03},{"t":-12,"v":0.01},{"t":-10,"v":0},{"t":-5,"v":0.01},{"t":-3,"v":0.03},{"t":0,"v":0.05},{"t":3,"v":0.1},{"t":7,"v":0.12},{"t":10,"v":0.16},{"t":12,"v":0.13},{"t":15,"v":0.1},{"t":18,"v":0.06},{"t":20,"v":0.02},{"t":22,"v":0.04},{"t":25,"v":0.05},{"t":28,"v":0.01},{"t":30,"v":0.01},{"t":33,"v":0.04},{"t":37,"v":0.12},{"t":40,"v":0.18},{"t":43,"v":0.23},{"t":45,"v":0.28},{"t":48,"v":0.26},{"t":50,"v":0.28},{"t":52,"v":0.24},{"t":55,"v":0.3},{"t":58,"v":0.33},{"t":60,"v":0.4},{"t":63,"v":0.5},{"t":65,"v":0.55},{"t":68,"v":0.5},{"t":70,"v":0.42},{"t":72,"v":0.35},{"t":75,"v":0.27},{"t":78,"v":0.2},{"t":80,"v":0.16},{"t":83,"v":0.11},{"t":85,"v":0.08},{"t":88,"v":0.12},{"t":90,"v":0.07},{"t":93,"v":0.05},{"t":95,"v":0.1},{"t":98,"v":0.12},{"t":100,"v":0.09}],
"B3": [{"t":-100,"v":0},{"t":-97,"v":0},{"t":-95,"v":0.01},{"t":-92,"v":0.03},{"t":-90,"v":0.02},{"t":-87,"v":0.01},{"t":-85,"v":0.02},{"t":-82,"v":0.01},{"t":-80,"v":0.02},{"t":-75,"v":0},{"t":-72,"v":0.02},{"t":-70,"v":0.01},{"t":-65,"v":0},{"t":-62,"v":0.03},{"t":-60,"v":0.02},{"t":-58,"v":0.01},{"t":-57,"v":0.05},{"t":-55,"v":0.12},{"t":-52,"v":0.17},{"t":-50,"v":0.22},{"t":-47,"v":0.28},{"t":-45,"v":0.32},{"t":-42,"v":0.4},{"t":-40,"v":0.46},{"t":-38,"v":0.53},{"t":-37,"v":0.56},{"t":-35,"v":0.5},{"t":-33,"v":0.42},{"t":-30,"v":0.32},{"t":-28,"v":0.22},{"t":-25,"v":0.12},{"t":-22,"v":0.05},{"t":-20,"v":0.04},{"t":-17,"v":0.06},{"t":-15,"v":0.07},{"t":-12,"v":0.08},{"t":-10,"v":0.07},{"t":-7,"v":0.05},{"t":-5,"v":0.03},{"t":-3,"v":0},{"t":0,"v":0.02},{"t":2,"v":0.05},{"t":4,"v":0.03},{"t":7,"v":0.01},{"t":10,"v":0},{"t":15,"v":0.01},{"t":20,"v":0},{"t":50,"v":0},{"t":52,"v":0.01},{"t":55,"v":0},{"t":83,"v":0.01},{"t":85,"v":0.04},{"t":90,"v":0.04},{"t":93,"v":0.03},{"t":96,"v":0.01},{"t":100,"v":0.01}],
"C1": [{"t":-100,"v":0.15},{"t":-98,"v":0.13},{"t":-95,"v":0.1},{"t":-93,"v":0.15},{"t":-91,"v":0.2},{"t":-88,"v":0.2},{"t":-86,"v":0.13},{"t":-83,"v":0.1},{"t":-80,"v":0.08},{"t":-77,"v":0.05},{"t":-75,"v":0.03},{"t":-72,"v":0.03},{"t":-70,"v":0.06},{"t":-67,"v":0.1},{"t":-64,"v":0.17},{"t":-62,"v":0.25},{"t":-59,"v":0.33},{"t":-57,"v":0.38},{"t":-55,"v":0.4},{"t":-52,"v":0.4},{"t":-50,"v":0.36},{"t":-47,"v":0.27},{"t":-45,"v":0.2},{"t":-42,"v":0.13},{"t":-40,"v":0.09},{"t":-37,"v":0.08},{"t":-35,"v":0.12},{"t":-32,"v":0.2},{"t":-30,"v":0.26},{"t":-28,"v":0.32},{"t":-26,"v":0.4},{"t":-23,"v":0.42},{"t":-21,"v":0.43},{"t":-19,"v":0.38},{"t":-17,"v":0.3},{"t":-15,"v":0.22},{"t":-12,"v":0.12},{"t":-10,"v":0.05},{"t":-7,"v":0.02},{"t":-5,"v":0},{"t":0,"v":0},{"t":3,"v":0.01},{"t":6,"v":0.03},{"t":10,"v":0.06},{"t":13,"v":0.12},{"t":16,"v":0.18},{"t":19,"v":0.22},{"t":22,"v":0.3},{"t":25,"v":0.4},{"t":27,"v":0.46},{"t":29,"v":0.51},{"t":30,"v":0.55},{"t":32,"v":0.5},{"t":34,"v":0.42},{"t":36,"v":0.3},{"t":38,"v":0.24},{"t":40,"v":0.2},{"t":42,"v":0.1},{"t":45,"v":0.05},{"t":48,"v":0.02},{"t":50,"v":0.06},{"t":53,"v":0.15},{"t":56,"v":0.22},{"t":59,"v":0.28},{"t":62,"v":0.32},{"t":65,"v":0.33},{"t":68,"v":0.3},{"t":70,"v":0.28},{"t":73,"v":0.22},{"t":76,"v":0.13},{"t":79,"v":0.06},{"t":82,"v":0.02},{"t":85,"v":0},{"t":90,"v":0},{"t":93,"v":0.05},{"t":96,"v":0.1},{"t":100,"v":0.17}],
"C2": [{"t":-100,"v":0.17},{"t":-98,"v":0.12},{"t":-95,"v":0.05},{"t":-93,"v":0.02},{"t":-90,"v":0},{"t":-88,"v":0.07},{"t":-85,"v":0.05},{"t":-82,"v":0.02},{"t":-80,"v":0.05},{"t":-77,"v":0.03},{"t":-75,"v":0.05},{"t":-72,"v":0.07},{"t":-70,"v":0.08},{"t":-68,"v":0.14},{"t":-65,"v":0.2},{"t":-63,"v":0.22},{"t":-60,"v":0.2},{"t":-57,"v":0.14},{"t":-55,"v":0.08},{"t":-52,"v":0.06},{"t":-50,"v":0.05},{"t":-47,"v":0.12},{"t":-44,"v":0.2},{"t":-41,"v":0.3},{"t":-38,"v":0.34},{"t":-36,"v":0.37},{"t":-34,"v":0.3},{"t":-32,"v":0.22},{"t":-30,"v":0.18},{"t":-28,"v":0.15},{"t":-25,"v":0.25},{"t":-22,"v":0.33},{"t":-20,"v":0.3},{"t":-17,"v":0.38},{"t":-14,"v":0.43},{"t":-12,"v":0.45},{"t":-10,"v":0.42},{"t":-8,"v":0.28},{"t":-6,"v":0.25},{"t":-4,"v":0.2},{"t":-2,"v":0.22},{"t":0,"v":0.18},{"t":2,"v":0.08},{"t":4,"v":0.1},{"t":6,"v":0.08},{"t":8,"v":0.12},{"t":10,"v":0.1},{"t":12,"v":0.18},{"t":14,"v":0.2},{"t":16,"v":0.12},{"t":18,"v":0.18},{"t":20,"v":0.33},{"t":23,"v":0.42},{"t":25,"v":0.48},{"t":27,"v":0.51},{"t":29,"v":0.45},{"t":31,"v":0.38},{"t":33,"v":0.28},{"t":35,"v":0.25},{"t":37,"v":0.22},{"t":39,"v":0.25},{"t":41,"v":0.2},{"t":43,"v":0.37},{"t":45,"v":0.24},{"t":47,"v":0.27},{"t":49,"v":0.26},{"t":52,"v":0.24},{"t":55,"v":0.2},{"t":57,"v":0.24},{"t":60,"v":0.22},{"t":63,"v":0.2},{"t":65,"v":0.24},{"t":68,"v":0.24},{"t":70,"v":0.28},{"t":72,"v":0.28},{"t":75,"v":0.23},{"t":77,"v":0.18},{"t":79,"v":0.22},{"t":81,"v":0.22},{"t":83,"v":0.18},{"t":85,"v":0.22},{"t":87,"v":0.2},{"t":89,"v":0.26},{"t":91,"v":0.17},{"t":93,"v":0.26},{"t":95,"v":0.15},{"t":97,"v":0.09},{"t":100,"v":0}],
"C3": [{"t":-100,"v":0.06},{"t":-98,"v":0.08},{"t":-95,"v":0.08},{"t":-92,"v":0.08},{"t":-90,"v":0.05},{"t":-87,"v":0.02},{"t":-85,"v":0},{"t":-83,"v":0.05},{"t":-80,"v":0.07},{"t":-78,"v":0.03},{"t":-75,"v":0.04},{"t":-72,"v":0.01},{"t":-70,"v":0},{"t":-67,"v":0.02},{"t":-64,"v":0.05},{"t":-62,"v":0.1},{"t":-60,"v":0.07},{"t":-58,"v":0.09},{"t":-55,"v":0.11},{"t":-52,"v":0.13},{"t":-50,"v":0.09},{"t":-47,"v":0.1},{"t":-45,"v":0.13},{"t":-42,"v":0.16},{"t":-40,"v":0.19},{"t":-38,"v":0.17},{"t":-36,"v":0.14},{"t":-34,"v":0.08},{"t":-32,"v":0.06},{"t":-30,"v":0},{"t":0,"v":0},{"t":3,"v":0.05},{"t":5,"v":0.12},{"t":8,"v":0.2},{"t":10,"v":0.28},{"t":13,"v":0.35},{"t":15,"v":0.42},{"t":17,"v":0.5},{"t":19,"v":0.55},{"t":21,"v":0.45},{"t":23,"v":0.4},{"t":25,"v":0.33},{"t":27,"v":0.27},{"t":29,"v":0.2},{"t":31,"v":0.1},{"t":33,"v":0.05},{"t":35,"v":0.08},{"t":37,"v":0.03},{"t":40,"v":0},{"t":42,"v":0.05},{"t":45,"v":0.1},{"t":48,"v":0.2},{"t":50,"v":0.22},{"t":53,"v":0.22},{"t":56,"v":0.22},{"t":58,"v":0.26},{"t":60,"v":0.3},{"t":62,"v":0.32},{"t":65,"v":0.3},{"t":67,"v":0.28},{"t":69,"v":0.22},{"t":71,"v":0.15},{"t":73,"v":0.1},{"t":75,"v":0.08},{"t":77,"v":0.05},{"t":79,"v":0.03},{"t":81,"v":0},{"t":83,"v":0.02},{"t":85,"v":0.06},{"t":87,"v":0.1},{"t":90,"v":0.13},{"t":93,"v":0.13},{"t":96,"v":0.12},{"t":98,"v":0.13},{"t":100,"v":0.1}],
"E1": [{"t":-100,"v":0.2},{"t":-97,"v":0.27},{"t":-95,"v":0.4},{"t":-92,"v":0.52},{"t":-90,"v":0.62},{"t":-88,"v":0.58},{"t":-85,"v":0.59},{"t":-82,"v":0.56},{"t":-80,"v":0.54},{"t":-77,"v":0.45},{"t":-75,"v":0.38},{"t":-72,"v":0.3},{"t":-70,"v":0.25},{"t":-67,"v":0.32},{"t":-65,"v":0.42},{"t":-62,"v":0.44},{"t":-60,"v":0.42},{"t":-58,"v":0.45},{"t":-55,"v":0.47},{"t":-52,"v":0.43},{"t":-50,"v":0.38},{"t":-47,"v":0.3},{"t":-45,"v":0.24},{"t":-43,"v":0.28},{"t":-40,"v":0.33},{"t":-37,"v":0.34},{"t":-35,"v":0.36},{"t":-33,"v":0.44},{"t":-30,"v":0.4},{"t":-28,"v":0.4},{"t":-25,"v":0.44},{"t":-23,"v":0.37},{"t":-20,"v":0.4},{"t":-17,"v":0.48},{"t":-15,"v":0.47},{"t":-13,"v":0.3},{"t":-10,"v":0.18},{"t":-8,"v":0.08},{"t":-6,"v":0},{"t":20,"v":0},{"t":22,"v":0.06},{"t":25,"v":0.18},{"t":28,"v":0.32},{"t":31,"v":0.45},{"t":33,"v":0.55},{"t":35,"v":0.62},{"t":37,"v":0.64},{"t":40,"v":0.57},{"t":43,"v":0.5},{"t":46,"v":0.45},{"t":49,"v":0.4},{"t":52,"v":0.38},{"t":55,"v":0.35},{"t":58,"v":0.38},{"t":60,"v":0.35},{"t":62,"v":0.45},{"t":65,"v":0.57},{"t":67,"v":0.68},{"t":70,"v":0.71},{"t":72,"v":0.62},{"t":75,"v":0.5},{"t":77,"v":0.45},{"t":80,"v":0.48},{"t":83,"v":0.57},{"t":85,"v":0.65},{"t":87,"v":0.72},{"t":90,"v":0.7},{"t":92,"v":0.66},{"t":95,"v":0.6},{"t":97,"v":0.64},{"t":100,"v":0.66}],
"E3": [{"t":-100,"v":0},{"t":-97,"v":0.05},{"t":-93,"v":0.12},{"t":-90,"v":0.16},{"t":-87,"v":0.2},{"t":-83,"v":0.19},{"t":-80,"v":0.17},{"t":-77,"v":0.1},{"t":-73,"v":0.06},{"t":-70,"v":0.07},{"t":-67,"v":0.12},{"t":-63,"v":0.18},{"t":-60,"v":0.23},{"t":-57,"v":0.29},{"t":-55,"v":0.3},{"t":-52,"v":0.26},{"t":-50,"v":0.2},{"t":-47,"v":0.14},{"t":-43,"v":0.06},{"t":-40,"v":0.04},{"t":-37,"v":0.1},{"t":-33,"v":0.17},{"t":-30,"v":0.29},{"t":-27,"v":0.4},{"t":-25,"v":0.47},{"t":-23,"v":0.5},{"t":-21,"v":0.49},{"t":-18,"v":0.35},{"t":-15,"v":0.2},{"t":-12,"v":0.08},{"t":-10,"v":0.02},{"t":-8,"v":0},{"t":18,"v":0},{"t":20,"v":0.08},{"t":25,"v":0.17},{"t":30,"v":0.25},{"t":33,"v":0.35},{"t":35,"v":0.4},{"t":37,"v":0.38},{"t":40,"v":0.25},{"t":45,"v":0.12},{"t":48,"v":0.03},{"t":50,"v":0},{"t":60,"v":0},{"t":63,"v":0.1},{"t":67,"v":0.22},{"t":70,"v":0.23},{"t":73,"v":0.15},{"t":75,"v":0.05},{"t":78,"v":0},{"t":87,"v":0},{"t":90,"v":0.04},{"t":95,"v":0.12},{"t":100,"v":0.2}],
"E2": [{"t":-100,"v":0.21},{"t":-98,"v":0.22},{"t":-96,"v":0.21},{"t":-94,"v":0.22},{"t":-92,"v":0.23},{"t":-90,"v":0.2},{"t":-88,"v":0.25},{"t":-86,"v":0.22},{"t":-84,"v":0.24},{"t":-82,"v":0.21},{"t":-80,"v":0.31},{"t":-78,"v":0.3},{"t":-76,"v":0.22},{"t":-74,"v":0.28},{"t":-72,"v":0.24},{"t":-70,"v":0.27},{"t":-68,"v":0.22},{"t":-66,"v":0.29},{"t":-64,"v":0.22},{"t":-62,"v":0.23},{"t":-60,"v":0.22},{"t":-58,"v":0.23},{"t":-56,"v":0.18},{"t":-54,"v":0.22},{"t":-52,"v":0.25},{"t":-50,"v":0.38},{"t":-48,"v":0.23},{"t":-46,"v":0.22},{"t":-44,"v":0.27},{"t":-42,"v":0.19},{"t":-40,"v":0.25},{"t":-38,"v":0.21},{"t":-36,"v":0.25},{"t":-34,"v":0.2},{"t":-32,"v":0.24},{"t":-30,"v":0.18},{"t":-28,"v":0.28},{"t":-26,"v":0.22},{"t":-24,"v":0.25},{"t":-22,"v":0.2},{"t":-20,"v":0.26},{"t":-18,"v":0.22},{"t":-16,"v":0.28},{"t":-14,"v":0.25},{"t":-12,"v":0.2},{"t":-10,"v":0.25},{"t":-8,"v":0.27},{"t":-6,"v":0.34},{"t":-4,"v":0.32},{"t":-2,"v":0.3},{"t":0,"v":0.29},{"t":2,"v":0.29},{"t":4,"v":0.25},{"t":6,"v":0.24},{"t":8,"v":0.2},{"t":10,"v":0.23},{"t":12,"v":0.3},{"t":14,"v":0.24},{"t":16,"v":0.22},{"t":18,"v":0.28},{"t":20,"v":0.2},{"t":22,"v":0.22},{"t":24,"v":0.19},{"t":26,"v":0.21},{"t":28,"v":0.2},{"t":30,"v":0.23},{"t":32,"v":0.18},{"t":34,"v":0.22},{"t":36,"v":0.2},{"t":38,"v":0.25},{"t":40,"v":0.22},{"t":42,"v":0.3},{"t":44,"v":0.27},{"t":46,"v":0.24},{"t":48,"v":0.3},{"t":50,"v":0.25},{"t":52,"v":0.3},{"t":54,"v":0.22},{"t":56,"v":0.29},{"t":58,"v":0.24},{"t":60,"v":0.3},{"t":62,"v":0.21},{"t":64,"v":0.41},{"t":66,"v":0.27},{"t":68,"v":0.26},{"t":70,"v":0.28},{"t":72,"v":0.26},{"t":74,"v":0.22},{"t":76,"v":0.26},{"t":78,"v":0.24},{"t":80,"v":0.21},{"t":82,"v":0.26},{"t":84,"v":0.22},{"t":86,"v":0.25},{"t":88,"v":0.21},{"t":90,"v":0.24},{"t":92,"v":0.22},{"t":94,"v":0.26},{"t":96,"v":0.23},{"t":98,"v":0.16},{"t":100,"v":0.16}],
"E4": [{"t":-100,"v":0.07},{"t":-98,"v":0.11},{"t":-96,"v":0.06},{"t":-94,"v":0.07},{"t":-92,"v":0.04},{"t":-90,"v":0.09},{"t":-88,"v":0.05},{"t":-86,"v":0.02},{"t":-84,"v":0.08},{"t":-82,"v":0.04},{"t":-80,"v":0.09},{"t":-78,"v":0.05},{"t":-76,"v":0.03},{"t":-74,"v":0.07},{"t":-72,"v":0.04},{"t":-70,"v":0.06},{"t":-68,"v":0.02},{"t":-66,"v":0.05},{"t":-64,"v":0.08},{"t":-62,"v":0.04},{"t":-60,"v":0.06},{"t":-58,"v":0.03},{"t":-56,"v":0.09},{"t":-54,"v":0.05},{"t":-52,"v":0.1},{"t":-50,"v":0.04},{"t":-48,"v":0.07},{"t":-46,"v":0.05},{"t":-44,"v":0.03},{"t":-42,"v":0.08},{"t":-40,"v":0.05},{"t":-38,"v":0.06},{"t":-36,"v":0.02},{"t":-34,"v":0.07},{"t":-32,"v":0.04},{"t":-30,"v":0.09},{"t":-28,"v":0.05},{"t":-26,"v":0.03},{"t":-24,"v":0.06},{"t":-22,"v":0.08},{"t":-20,"v":0.04},{"t":-18,"v":0.06},{"t":-16,"v":0.03},{"t":-14,"v":0.07},{"t":-12,"v":0.11},{"t":-10,"v":0.05},{"t":-8,"v":0.06},{"t":-6,"v":0.02},{"t":-4,"v":0.08},{"t":-2,"v":0.04},{"t":0,"v":0.07},{"t":2,"v":0.06},{"t":4,"v":0.03},{"t":6,"v":0.08},{"t":8,"v":0.05},{"t":10,"v":0.04},{"t":12,"v":0.06},{"t":14,"v":0.02},{"t":16,"v":0.05},{"t":18,"v":0.08},{"t":20,"v":0.04},{"t":22,"v":0.06},{"t":24,"v":0.03},{"t":26,"v":0.07},{"t":28,"v":0.05},{"t":30,"v":0.09},{"t":32,"v":0.04},{"t":34,"v":0.06},{"t":36,"v":0.03},{"t":38,"v":0.07},{"t":40,"v":0.05},{"t":42,"v":0.04},{"t":44,"v":0.08},{"t":46,"v":0.03},{"t":48,"v":0.06},{"t":50,"v":0.05},{"t":52,"v":0.02},{"t":54,"v":0.07},{"t":56,"v":0.04},{"t":58,"v":0.08},{"t":60,"v":0.05},{"t":62,"v":0.11},{"t":64,"v":0.07},{"t":66,"v":0.11},{"t":68,"v":0.04},{"t":70,"v":0.09},{"t":72,"v":0.06},{"t":74,"v":0.03},{"t":76,"v":0.08},{"t":78,"v":0.05},{"t":80,"v":0.1},{"t":82,"v":0.04},{"t":84,"v":0.07},{"t":86,"v":0.03},{"t":88,"v":0.08},{"t":90,"v":0.05},{"t":92,"v":0.07},{"t":94,"v":0.04},{"t":96,"v":0.08},{"t":98,"v":0.07},{"t":100,"v":0.07}],
"strips": [
 {"p":"A1","s":1,"pos":0.48,"v":0.7},{"p":"A1","s":1,"pos":0.415,"v":0.75},{"p":"A1","s":1,"pos":0.07,"v":0.7},{"p":"A1","s":1,"pos":0.72,"v":0.08},{"p":"A1","s":1,"pos":0.55,"v":0.08},{"p":"A1","s":1,"pos":0.3,"v":0.06},
 {"p":"A1","s":2,"pos":0.6,"v":1},{"p":"A1","s":2,"pos":0.41,"v":1},{"p":"A1","s":2,"pos":0.67,"v":0.12},{"p":"A1","s":2,"pos":0.5,"v":0.06},
 {"p":"A2","s":1,"pos":0.6,"v":1},{"p":"A2","s":1,"pos":0.67,"v":0.3},{"p":"A2","s":1,"pos":0.48,"v":0.25},{"p":"A2","s":1,"pos":0.2,"v":0.06},
 {"p":"A2","s":2,"pos":0.48,"v":1},{"p":"A2","s":2,"pos":0.41,"v":1},{"p":"A2","s":2,"pos":0.6,"v":0.08},
 {"p":"A3","s":1,"pos":0.6,"v":0.85},{"p":"A3","s":1,"pos":0.48,"v":0.85},{"p":"A3","s":1,"pos":0.67,"v":0.15},
 {"p":"A3","s":2,"pos":0.48,"v":0.7},{"p":"A3","s":2,"pos":0.335,"v":0.5},{"p":"A3","s":2,"pos":0.67,"v":0.08},
 {"p":"D1","s":1,"pos":0.88,"v":0.8},{"p":"D1","s":1,"pos":0.67,"v":0.95},{"p":"D1","s":1,"pos":0.5,"v":0.06},{"p":"D1","s":1,"pos":0.26,"v":0.06},
 {"p":"D1","s":2,"pos":0.88,"v":0.5},{"p":"D1","s":2,"pos":0.67,"v":0.55},{"p":"D1","s":2,"pos":0.76,"v":0.08},
 {"p":"D2","s":1,"pos":0.67,"v":1},{"p":"D2","s":1,"pos":0.48,"v":0.75},{"p":"D2","s":1,"pos":0.02,"v":1},{"p":"D2","s":1,"pos":0.35,"v":0.06},
 {"p":"D2","s":2,"pos":0.67,"v":0.4},{"p":"D2","s":2,"pos":0.48,"v":0.4},{"p":"D2","s":2,"pos":0.02,"v":0.6},
 {"p":"B1","s":1,"pos":0.67,"v":0.85},{"p":"B1","s":1,"pos":0.176,"v":0.8},{"p":"B1","s":1,"pos":0.6,"v":0.08},
 {"p":"B1","s":2,"pos":0.256,"v":1},{"p":"B1","s":2,"pos":0.176,"v":1},{"p":"B1","s":2,"pos":0.67,"v":0.1},
 {"p":"B2","s":1,"pos":0.83,"v":1},{"p":"B2","s":1,"pos":0.68,"v":0.3},{"p":"B2","s":1,"pos":0.335,"v":1},{"p":"B2","s":1,"pos":0.3,"v":0.1},
 {"p":"B2","s":2,"pos":0.83,"v":1},{"p":"B2","s":2,"pos":0.68,"v":1},
 {"p":"B3","s":1,"pos":0.754,"v":1},{"p":"B3","s":1,"pos":0.72,"v":0.3},{"p":"B3","s":1,"pos":0.677,"v":1},{"p":"B3","s":1,"pos":0.256,"v":1},{"p":"B3","s":1,"pos":0.4,"v":0.08},
 {"p":"B3","s":2,"pos":0.83,"v":0.9},{"p":"B3","s":2,"pos":0.75,"v":1},{"p":"B3","s":2,"pos":0.72,"v":1},{"p":"B3","s":2,"pos":0.68,"v":0.9},{"p":"B3","s":2,"pos":0.6,"v":0.4},{"p":"B3","s":2,"pos":0.4,"v":0.2},{"p":"B3","s":2,"pos":0.335,"v":1},{"p":"B3","s":2,"pos":0.3,"v":0.5},{"p":"B3","s":2,"pos":0.256,"v":0.3},{"p":"B3","s":2,"pos":0.9,"v":0.15},
 {"p":"E1","s":1,"pos":0.48,"v":1},
 {"p":"E1","s":2,"pos":0.677,"v":0.55},
 {"p":"C1","s":1,"pos":0.94,"v":0.8},{"p":"C1","s":1,"pos":0.25,"v":0.7},
 {"p":"C1","s":2,"pos":0.48,"v":0.8},{"p":"C1","s":2,"pos":0.25,"v":1},{"p":"C1","s":2,"pos":0.176,"v":1},{"p":"C1","s":2,"pos":0.9,"v":0.1},
 {"p":"C2","s":1,"pos":0.67,"v":1},{"p":"C2","s":1,"pos":0.41,"v":1},{"p":"C2","s":1,"pos":0.6,"v":0.1},
 {"p":"C2","s":2,"pos":0.48,"v":1},{"p":"C2","s":2,"pos":0.41,"v":1},{"p":"C2","s":2,"pos":0.67,"v":0.1},
 {"p":"C3","s":1,"pos":0.74,"v":0.85},{"p":"C3","s":1,"pos":0.72,"v":0.85},
 {"p":"C3","s":2,"pos":0.74,"v":0.4},{"p":"C3","s":2,"pos":0.7,"v":0.3},{"p":"C3","s":2,"pos":0.48,"v":0.55},{"p":"C3","s":2,"pos":0.28,"v":1},{"p":"C3","s":2,"pos":0.26,"v":1},{"p":"C3","s":2,"pos":0.9,"v":0.2},
 {"p":"E3","s":1,"pos":0.75,"v":0.6},
 {"p":"E3","s":2,"pos":0.48,"v":0.55}
]
},
"config": {
 "font": "Liberation Sans",
 "view": {"stroke": "#222", "strokeWidth": 1.2},
 "axis": {"grid": false, "domain": false, "tickColor": "#333", "tickSize": 3, "labelFontSize": 13.5, "labelColor": "#222", "labelPadding": 3, "labelFlush": false, "labelOverlap": false, "titleFontSize": 17, "titleFontWeight": "normal", "titleColor": "#333"},
 "axisX": {"titlePadding": 3, "labelPadding": 6},
 "axisY": {"titlePadding": 9},
 "title": {"fontSize": 11, "color": "#a0a0a0", "fontWeight": "normal", "anchor": "end", "offset": 3, "font": "Liberation Sans"}
}
}
